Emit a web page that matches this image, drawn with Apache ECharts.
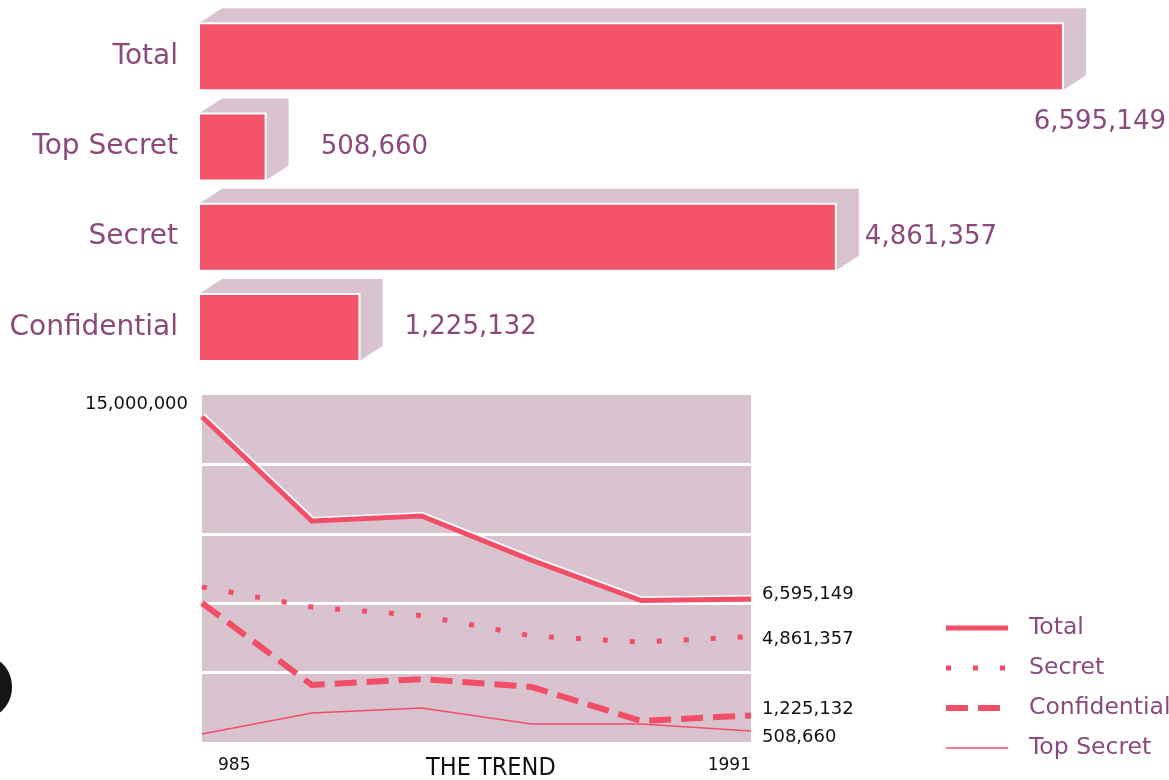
<!DOCTYPE html>
<html>
<head>
<meta charset="utf-8">
<title>Classified documents</title>
<script src="https://cdn.jsdelivr.net/npm/echarts@6/dist/echarts.min.js"></script>
<style>
  html, body { margin: 0; padding: 0; background: #ffffff; }
  #chart { width: 1169px; height: 780px; }
</style>
</head>
<body>
<div id="chart"></div>
<script>
// Classification levels and their counts (top bars)
const categories = ['Total', 'Top Secret', 'Secret', 'Confidential'];
const counts = [6595149, 508660, 4861357, 1225132];

// Trend over the years (bottom chart)
const yearLabels = ['985', '', '', '', '', '1991'];
const totalTrend = [15000000, 10190000, 10420000, 8390000, 6520000, 6595149];
const secretTrend = [7150000, 6220000, 5830000, 4890000, 4610000, 4861357];
const confidentialTrend = [6410000, 2630000, 2900000, 2540000, 970000, 1225132];
const topSecretTrend = [370000, 1340000, 1570000, 830000, 830000, 508660];

const RED = '#F4546A';
const LINE_RED = '#F24E67';
const MAUVE = '#D8C3CE';
const PURPLE = '#8A4A7C';
const FONT = '"DejaVu Sans", Lato, sans-serif';

const fmt = v => Math.round(v).toLocaleString('en-US');

// Where each bar's value label sits relative to the bar's back edge
const valueLabelGap = { 'Top Secret': 32, 'Secret': 6, 'Confidential': 22 };

const chart = echarts.init(document.getElementById('chart'), null, { renderer: 'canvas' });

function renderBar(params, api) {
  const idx = api.value(1);
  const val = api.value(0);
  const p0 = api.coord([0, idx]);
  const p1 = api.coord([val, idx]);
  const h = 67, dx = 23, dy = 15;
  const x0 = p0[0], x1 = p1[0];
  const y0 = p0[1] - h / 2, y1 = p0[1] + h / 2;
  const name = categories[idx];
  const label = name === 'Total'
    ? { x: x1 + dx + 80, y: y1 + 32, align: 'right' }
    : { x: x1 + dx + (valueLabelGap[name] || 20), y: p0[1], align: 'left' };
  return {
    type: 'group',
    children: [
      {
        type: 'polygon',
        shape: { points: [[x0, y0], [x0 + dx, y0 - dy], [x1 + dx, y0 - dy], [x1 + dx, y1 - dy], [x1, y1], [x1, y0]] },
        style: { fill: MAUVE }
      },
      {
        type: 'rect',
        shape: { x: x0, y: y0, width: x1 - x0, height: h },
        style: { fill: RED, stroke: '#ffffff', lineWidth: 2 }
      },
      {
        type: 'text',
        x: label.x, y: label.y,
        style: {
          text: fmt(val), fill: PURPLE, font: '26px ' + FONT,
          align: label.align, verticalAlign: 'middle'
        }
      }
    ]
  };
}

function trendSeries(name, data, lineStyle, endOffset, z) {
  return {
    name: name,
    type: 'line',
    xAxisIndex: 1,
    yAxisIndex: 1,
    data: data,
    symbol: 'none',
    z: z,
    lineStyle: Object.assign({ color: LINE_RED, cap: 'butt', join: 'miter' }, lineStyle),
    itemStyle: { color: LINE_RED },
    endLabel: {
      show: true,
      formatter: p => fmt(p.value),
      color: '#111111',
      fontFamily: FONT,
      fontSize: 18,
      distance: 11,
      offset: endOffset
    }
  };
}

const totalSeries = trendSeries('Total', totalTrend,
  { width: 5, shadowColor: '#ffffff', shadowOffsetX: 1, shadowOffsetY: -1.5, shadowBlur: 0 }, [0, -5], 6);
// Only the first point carries a label (the starting total)
totalSeries.symbol = 'circle';
totalSeries.symbolSize = 0;
totalSeries.showSymbol = true;
totalSeries.label = {
  show: true,
  position: 'left',
  distance: 14,
  offset: [0, -12],
  color: '#111111',
  fontFamily: FONT,
  fontSize: 18,
  formatter: p => (p.dataIndex === 0 ? fmt(p.value) : '')
};

const option = {
  animation: false,
  backgroundColor: '#ffffff',
  textStyle: { fontFamily: FONT },
  grid: [
    { left: 199, top: 11.5, width: 917, height: 361 },
    { left: 202, top: 395, width: 549, height: 347 }
  ],
  title: {
    text: 'THE TREND',
    left: 421,
    top: 751,
    textStyle: {
      fontFamily: '"Liberation Sans Narrow", "DejaVu Sans Condensed", Roboto, sans-serif',
      fontSize: 25, fontWeight: 'normal', color: '#111111'
    }
  },
  legend: {
    orient: 'vertical',
    left: 943,
    top: 614,
    padding: 0,
    itemWidth: 62,
    itemHeight: 14,
    itemGap: 12,
    data: ['Total', 'Secret', 'Confidential', 'Top Secret'],
    itemStyle: { opacity: 0 },
    lineStyle: { width: 'inherit' },
    textStyle: { color: PURPLE, fontSize: 23.5, fontFamily: FONT, lineHeight: 28, padding: [0, 0, 0, 16] }
  },
  xAxis: [
    { gridIndex: 0, type: 'value', min: 0, max: 7000000, show: false },
    {
      gridIndex: 1,
      type: 'category',
      data: yearLabels,
      boundaryGap: false,
      axisLine: { show: false },
      axisTick: { show: false },
      axisLabel: {
        interval: 0,
        margin: 15,
        color: '#111111',
        fontSize: 17,
        fontFamily: FONT,
        alignMinLabel: 'left',
        alignMaxLabel: 'right',
        formatter: (v, i) => (i === 0 ? '{first|' + v + '}' : v),
        rich: { first: { padding: [0, 0, 0, 16], fontSize: 17, color: '#111111', fontFamily: FONT } }
      }
    }
  ],
  yAxis: [
    {
      gridIndex: 0,
      type: 'category',
      data: categories,
      inverse: true,
      axisLine: { show: false },
      axisTick: { show: false },
      splitLine: { show: false },
      axisLabel: { color: PURPLE, fontSize: 28, fontFamily: FONT, margin: 21 }
    },
    {
      gridIndex: 1,
      type: 'value',
      min: 0,
      max: 16000000,
      interval: 3200000,
      axisLine: { show: false },
      axisTick: { show: false },
      axisLabel: { show: false },
      splitLine: { show: true, showMinLine: false, showMaxLine: false, lineStyle: { color: '#ffffff', width: 3 } },
      splitArea: { show: true, areaStyle: { color: [MAUVE] } }
    }
  ],
  graphic: [
    {
      type: 'ellipse',
      shape: { cx: -16, cy: 687, rx: 28, ry: 31 },
      style: { fill: '#151515' },
      z: 100
    }
  ],
  series: [
    {
      type: 'custom',
      name: 'Counts',
      xAxisIndex: 0,
      yAxisIndex: 0,
      renderItem: renderBar,
      encode: { x: 0, y: 1 },
      data: counts.map((v, i) => [v, i])
    },
    trendSeries('Top Secret', topSecretTrend, { width: 1.5 }, [0, 6], 3),
    trendSeries('Confidential', confidentialTrend, { width: 6, type: [22, 10] }, [0, -6], 4),
    trendSeries('Secret', secretTrend, { width: 5, type: [5, 22] }, [0, 3], 5),
    totalSeries
  ]
};

chart.setOption(option);
</script>
</body>
</html>
